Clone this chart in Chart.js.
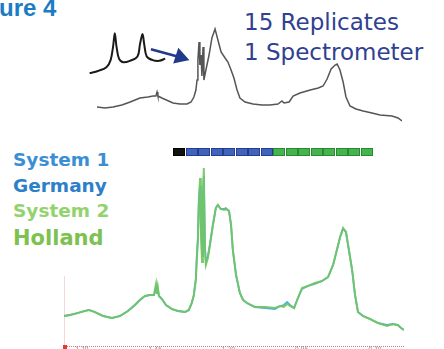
<!DOCTYPE html>
<html>
<head>
<meta charset="utf-8">
<script src="https://cdn.jsdelivr.net/npm/chart.js@4/dist/chart.umd.min.js"></script>
<style>
  body { margin: 0; background: #fff; }
  #page { position: relative; width: 444px; height: 349px; overflow: hidden; background: #fff; }
  canvas { position: absolute; }
  .txt { position: absolute; white-space: nowrap; line-height: 1; }
  #fig { left: -37px; top: -6px; font: bold 24px "Liberation Sans", Arial, sans-serif; color: #1a7cc4; }
  #rep1, #rep2 { left: 244px; font: 23px "DejaVu Sans", sans-serif; color: #2f4190; }
  #rep1 { top: 9px; }
  #rep2 { top: 39px; }
  .sys { left: 13px; font: bold 18.5px "DejaVu Sans", sans-serif; }
  #s1 { top: 149px; color: #3a8fd4; }
  #g1 { top: 175px; color: #2d80c8; }
  #s2 { top: 200px; color: #92d36e; }
  #h2 { top: 226px; font-size: 21px; color: #7dc24e; }
  #squares { position: absolute; left: 173px; top: 148px; display: flex; }
  #squares div { width: 10px; height: 6px; margin-right: 0.5px; box-sizing: content-box; }
  #axisLine { position: absolute; left: 64px; top: 346px; width: 340px; border-top: 1px dotted #e57373; }
  #leftLine { position: absolute; left: 64px; top: 276px; width: 1px; height: 73px; background: #f6d6d6; }
  #redDot { position: absolute; left: 63px; top: 345px; width: 4px; height: 4px; background: #e53935; }
</style>
</head>
<body>
<div id="page">
  <div class="txt" id="fig">Figure 4</div>
  <div class="txt" id="rep1">15 Replicates</div>
  <div class="txt" id="rep2">1 Spectrometer</div>
  <div class="txt sys" id="s1">System 1</div>
  <div class="txt sys" id="g1">Germany</div>
  <div class="txt sys" id="s2">System 2</div>
  <div class="txt sys" id="h2">Holland</div>
  <div id="squares"></div>
  <div id="leftLine"></div>
  <div id="axisLine"></div>
  <div id="redDot"></div>
  <canvas id="topChart" width="305" height="105" style="left:97px;top:20px"></canvas>
  <canvas id="insetChart" width="120" height="70" style="left:80px;top:20px"></canvas>
  <canvas id="mainChart" width="340" height="189" style="left:64px;top:160px"></canvas>
</div>
<script>
// replicate legend: 1 reference + 7 system 1 + 8 system 2
const replicateColors = ["black", "blue", "blue", "blue", "blue", "blue", "blue", "blue",
  "green", "green", "green", "green", "green", "green", "green", "green"];

// bottom overlay spectrum (ppm, intensity)
const mainPpm = [1.761, 1.741, 1.714, 1.690, 1.676, 1.656, 1.628, 1.598, 1.570, 1.543,
  1.519, 1.502, 1.485, 1.468, 1.454, 1.451, 1.447, 1.444, 1.441, 1.437,
  1.427, 1.413, 1.393, 1.372, 1.348, 1.335, 1.325, 1.318, 1.311, 1.308,
  1.304, 1.301, 1.297, 1.294, 1.290, 1.287, 1.284, 1.280, 1.277, 1.270,
  1.263, 1.253, 1.243, 1.236, 1.226, 1.215, 1.209, 1.198, 1.191, 1.185,
  1.174, 1.161, 1.150, 1.137, 1.110, 1.075, 1.041, 1.024, 1.011, 1.000,
  0.990, 0.976, 0.963, 0.949, 0.929, 0.905, 0.881, 0.860, 0.843, 0.830,
  0.819, 0.809, 0.799, 0.789, 0.778, 0.768, 0.758, 0.741, 0.717, 0.690,
  0.659, 0.639, 0.622, 0.611, 0.601];
const system1 = [20, 21, 23, 25, 26, 24, 20, 18, 20, 25,
  31, 36, 40, 41, 41, 44, 49, 42, 47, 40,
  37, 31, 27, 25, 24, 26, 33, 41, 58, 80,
  100, 138, 150, 112, 80, 140, 160, 90, 74, 80,
  92, 111, 128, 131, 127, 127, 128, 125, 111, 86,
  61, 43, 36, 33, 29, 28, 27, 30, 31, 34,
  31, 28, 38, 47, 50, 52, 55, 59, 71, 86,
  99, 107, 104, 86, 66, 41, 24, 20, 17, 13,
  11, 12, 11, 8, 6];
const system2 = [20, 21, 23, 25, 26, 24, 20, 18, 20, 25,
  31, 36, 40, 41, 41, 46, 52, 42, 49, 40,
  37, 31, 27, 25, 24, 26, 33, 41, 56, 76,
  96, 131, 158, 106, 74, 136, 168, 86, 71, 78,
  91, 111, 128, 131, 127, 126, 127, 125, 111, 86,
  61, 43, 36, 33, 29, 29, 28, 30, 29, 32,
  30, 28, 38, 48, 50, 53, 55, 59, 71, 86,
  99, 108, 104, 86, 66, 41, 24, 20, 17, 13,
  10, 12, 11, 8, 6];
const tickValues = [1.70, 1.45, 1.20, 0.95, 0.70];

// upper single-spectrometer trace
const topPpm = [1.649, 1.621, 1.593, 1.562, 1.533, 1.499, 1.471, 1.453, 1.443, 1.439,
  1.436, 1.422, 1.383, 1.359, 1.334, 1.320, 1.310, 1.303, 1.299, 1.296,
  1.292, 1.289, 1.285, 1.282, 1.278, 1.275, 1.268, 1.257, 1.247, 1.236,
  1.226, 1.215, 1.201, 1.191, 1.180, 1.170, 1.159, 1.149, 1.131, 1.103,
  1.072, 1.044, 1.016, 1.002, 0.995, 0.977, 0.963, 0.939, 0.903, 0.875,
  0.858, 0.844, 0.830, 0.816, 0.809, 0.799, 0.788, 0.778, 0.764, 0.743,
  0.718, 0.687, 0.659, 0.617, 0.596, 0.582];
const topIntensity = [18, 17, 18, 20, 23, 27, 28, 29, 29, 33,
  29, 27, 22, 21, 21, 23, 28, 35, 45, 65,
  83, 60, 70, 49, 78, 45, 55, 70, 87, 96,
  85, 73, 67, 63, 55, 47, 35, 27, 23, 21,
  20, 20, 21, 24, 22, 23, 29, 32, 35, 37,
  39, 46, 56, 60, 61, 55, 43, 28, 19, 16,
  14, 12, 10, 9, 7, 4];

// magnified doublet inset and the arrow pointing into the spectrum
const insetX = [0, 10, 20, 25, 28, 30, 32, 35, 40, 48, 57, 60, 63, 65, 68, 75, 83, 90];
const insetY = [10, 13, 18, 28, 47, 65, 47, 30, 25, 27, 33, 50, 64, 50, 33, 28, 27, 30];
const arrowX = [73, 108];
const arrowY = [43, 32];

const squares = document.getElementById("squares");
const squareStyles = {
  black: ["#111", "#000"],
  blue: ["#4263bd", "#233f8c"],
  green: ["#46b44c", "#2a8a34"],
};
for (const c of replicateColors) {
  const d = document.createElement("div");
  d.style.background = squareStyles[c][0];
  d.style.border = "1px solid " + squareStyles[c][1];
  squares.appendChild(d);
}

const zip = (xs, ys) => xs.map((x, i) => ({ x, y: ys[i] }));
const base = {
  responsive: false,
  animation: false,
  devicePixelRatio: 1,
  layout: { padding: 0 },
  plugins: { legend: { display: false }, tooltip: { enabled: false } },
  elements: { point: { radius: 0 }, line: { tension: 0 } },
};

new Chart(document.getElementById("mainChart"), {
  type: "line",
  data: {
    datasets: [
      // higher order is drawn first, so System 2 (green) ends up on top
      { label: "System 1", data: zip(mainPpm, system1), borderColor: "#55aee0", borderWidth: 1.8, order: 2, clip: false },
      { label: "System 2", data: zip(mainPpm, system2), borderColor: "rgba(112,198,98,0.92)", borderWidth: 2, order: 1, clip: false },
    ],
  },
  options: {
    ...base,
    scales: {
      x: {
        type: "linear",
        reverse: true,
        min: 0.601,
        max: 1.761,
        grid: { display: false },
        border: { display: false },
        afterBuildTicks: (s) => { s.ticks = tickValues.map((v) => ({ value: v })); },
        afterFit: (s) => { s.height = 13; },
        ticks: {
          autoSkip: false,
          maxRotation: 0,
          padding: 2,
          color: "#8a8a8a",
          font: { size: 6, family: "DejaVu Sans" },
          callback: (v) => Number(v).toFixed(2),
        },
      },
      y: { display: false, min: 0, max: 176 },
    },
  },
});

new Chart(document.getElementById("topChart"), {
  type: "line",
  data: {
    datasets: [
      { label: "1 Spectrometer", data: zip(topPpm, topIntensity), borderColor: "#555", borderWidth: 1.5, clip: false },
    ],
  },
  options: {
    ...base,
    scales: {
      x: { type: "linear", reverse: true, min: 0.582, max: 1.649, display: false },
      y: { display: false, min: 0, max: 105 },
    },
  },
});

new Chart(document.getElementById("insetChart"), {
  type: "line",
  data: {
    datasets: [
      { label: "doublet", data: zip(insetX, insetY), borderColor: "#1a1a1a", borderWidth: 2, tension: 0.35, clip: false },
      {
        label: "arrow",
        data: zip(arrowX, arrowY),
        borderColor: "#223a8a",
        borderWidth: 2.6,
        pointRadius: [0, 7],
        pointStyle: "triangle",
        pointRotation: 108,
        pointBackgroundColor: "#223a8a",
        pointBorderColor: "#223a8a",
        clip: false,
      },
    ],
  },
  options: {
    ...base,
    scales: {
      x: { type: "linear", min: 0, max: 120, display: false },
      y: { display: false, min: 0, max: 70 },
    },
  },
});
</script>
</body>
</html>
